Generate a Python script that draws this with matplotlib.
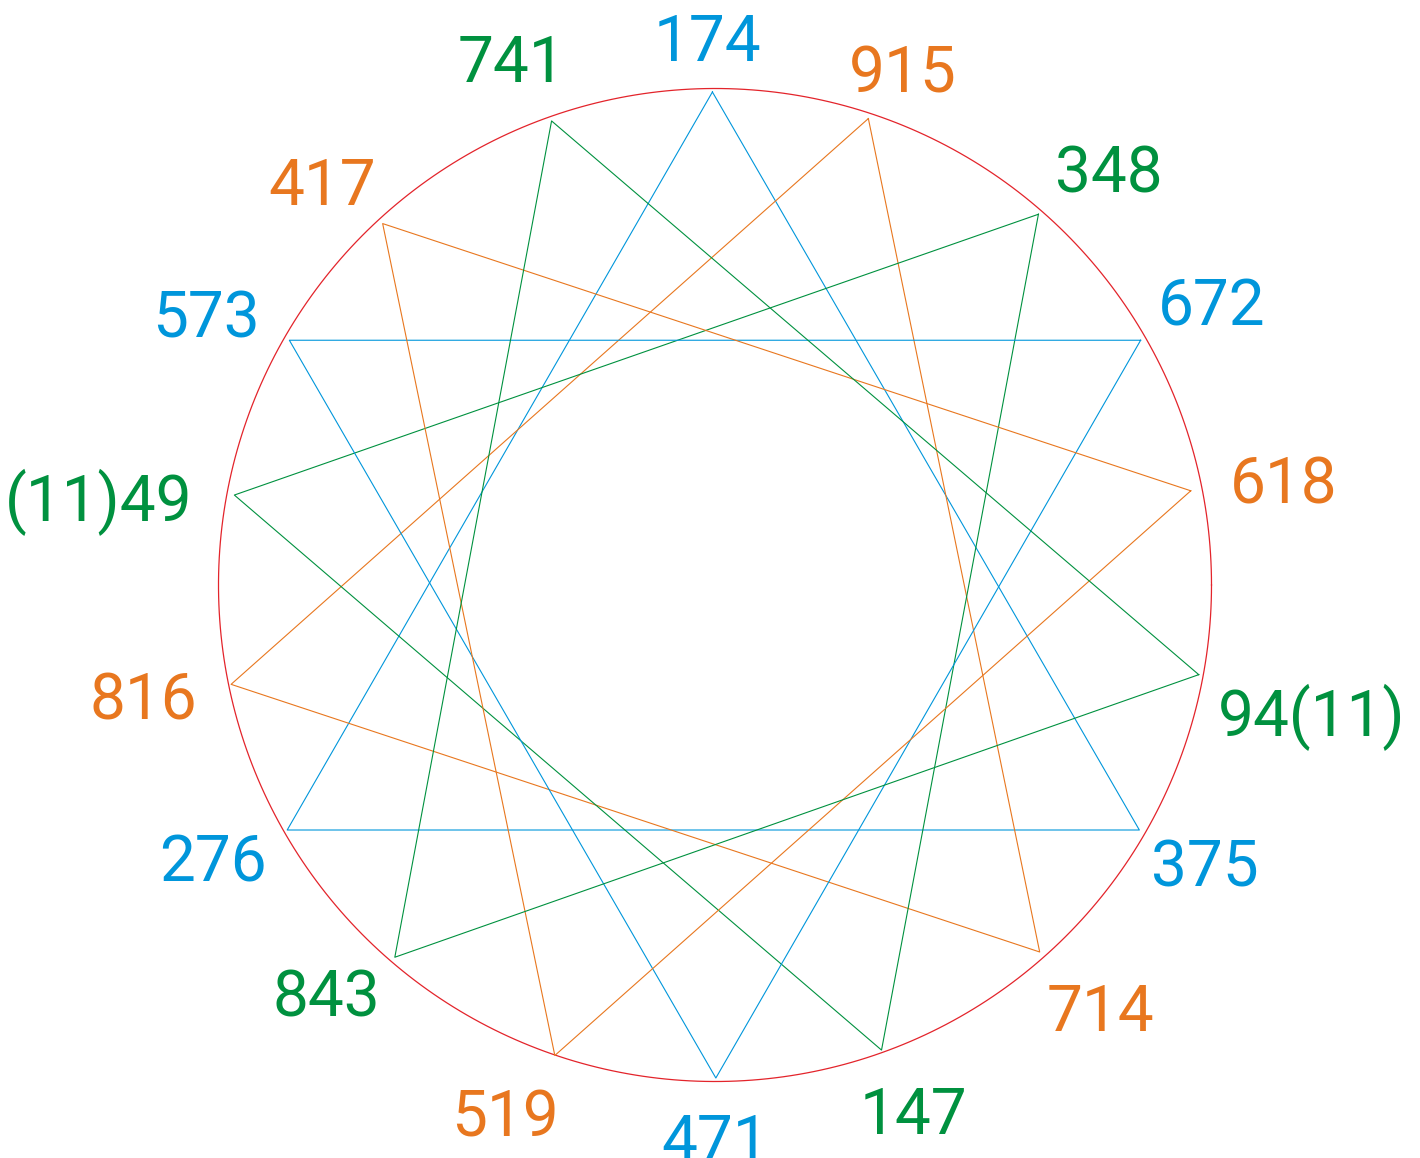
import numpy as np
import matplotlib
matplotlib.use("Agg")
import matplotlib.pyplot as plt

# labels clockwise from the top
labels = ["174", "915", "348", "672", "618", "94(11)", "375", "714", "147",
          "471", "519", "843", "276", "816", "(11)49", "573", "417", "741"]
# star vertices: angle (deg) and distance from centre
vert_ang = [90.3, 71.8, 48.9, 29.9, 11.2, -10.5, -30.0, -48.5, -70.3,
            -89.9, -108.8, -130.7, -150.2, -168.4, 169.4, 150.1, 132.6, 109.4]
vert_r = [493, 491, 492, 491, 485, 492, 490, 490, 494,
          493, 497, 491, 493, 494, 489, 491, 491, 492]

blue = "#0096db"
orange = "#e8771f"
green = "#00913f"
red = "#e3242b"
label_colors = [blue, orange, green] * 6
# each triangle joins points i, i+6, i+12
triangles = [(0, 6, 12), (1, 7, 13), (2, 8, 14), (3, 9, 15), (4, 10, 16), (5, 11, 17)]

# where the label centres sit (polar, around the same centre)
lab_ang = [90.8, 70.0, 46.6, 29.7, 10.5, -12.0, -29.5, -47.6, -69.3,
           -90.0, -111.7, -133.7, -151.5, -169.1, 171.9, 151.9, 134.2, 111.1]
lab_r = [548, 550, 573, 572, 578, 610, 563, 571, 561,
         552, 568, 563, 571, 582, 623, 577, 563, 565]

W, H = 1420, 1158
cx, cy, R = 715, 585, 496.5

fig = plt.figure(figsize=(W / 100, H / 100), dpi=100)
ax = fig.add_axes([0, 0, 1, 1])
ax.set_xlim(0, W)
ax.set_ylim(H, 0)
ax.axis("off")

a = np.radians(vert_ang)
px = cx + np.array(vert_r) * np.cos(a)
py = cy - np.array(vert_r) * np.sin(a)

t = np.linspace(0, 2 * np.pi, 400)
ax.plot(cx + R * np.cos(t), cy + R * np.sin(t), color=red, lw=0.9)

for tri in triangles:
    idx = list(tri) + [tri[0]]
    ax.plot(px[idx], py[idx], color=label_colors[tri[0]], lw=0.8)

for i, lab in enumerate(labels):
    la = np.radians(lab_ang[i])
    x = cx + lab_r[i] * np.cos(la)
    y = cy - lab_r[i] * np.sin(la)
    # baseline sits half a cap height below the centre
    ax.text(x, y + 24, lab, color=label_colors[i], fontsize=46,
            family="Roboto", ha="center", va="baseline")

fig.savefig("out.png", dpi=100)
